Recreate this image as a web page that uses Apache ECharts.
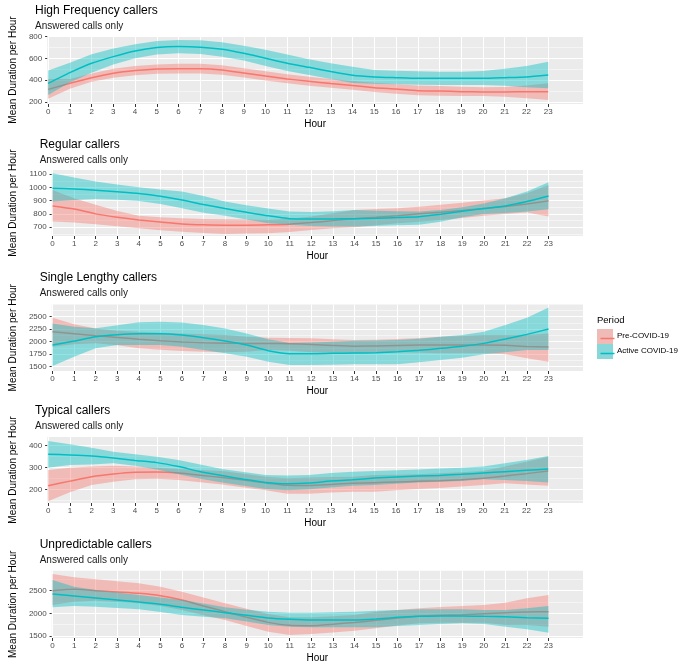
<!DOCTYPE html>
<html>
<head>
<meta charset="utf-8">
<script src="https://cdn.jsdelivr.net/npm/echarts@6/dist/echarts.min.js"></script>
<style>html,body{margin:0;padding:0;background:#fff}#c{width:687px;height:668px}</style>
</head>
<body>
<div id="c"></div>
<script>
// ---------- DATA ----------
const hours = [0,1,2,3,4,5,6,7,8,9,10,11,12,13,14,15,16,17,18,19,20,21,22,23];
const seriesNames = ['Pre-COVID-19', 'Active COVID-19'];
const panelTitles = ['High Frequency callers','Regular callers','Single Lengthy callers','Typical callers','Unpredictable callers'];
const subtitle = 'Answered calls only';

// High Frequency
const hfPreMean = [316,371,423,463,488,503,506,506,494,466,438,412,390,370,352,332,319,304,301,295,292,292,295,295];
const hfPreLo   = [231,322,385,422,446,460,462,462,450,425,397,372,350,330,312,292,275,263,258,256,255,248,235,218];
const hfPreHi   = [412,410,462,505,530,545,550,550,538,510,482,455,432,410,392,376,364,352,346,340,335,337,352,371];
const hfActMean = [371,469,555,616,668,699,708,702,684,647,601,555,518,479,445,430,423,417,417,417,417,423,430,448];
const hfActLo   = [264,378,469,545,601,635,647,640,616,580,531,485,448,410,375,368,362,358,356,355,356,350,335,326];
const hfActHi   = [488,561,638,690,730,760,769,767,748,715,678,635,592,555,524,494,487,482,478,478,485,505,531,570];
const hfTicks = [200,400,600,800];
const hfMinor = [300,500,700];

// Regular
const regPreMean = [861,838,801,775,755,740,725,718,715,715,718,723,735,750,765,775,786,801,813,826,841,856,876,899];
const regPreLo   = [743,735,723,708,692,678,667,656,650,652,655,665,680,692,700,715,730,742,755,770,786,800,811,781];
const regPreHi   = [982,919,869,823,786,775,768,762,760,758,755,765,781,805,831,838,843,855,869,885,901,919,957,1019];
const regActMean = [994,989,979,967,954,934,906,871,841,813,786,765,763,763,765,768,773,780,798,821,841,861,894,936];
const regActLo   = [894,905,914,908,899,875,843,810,786,758,730,718,710,705,705,710,715,718,742,775,800,808,818,836];
const regActHi   = [1108,1075,1045,1022,1002,985,969,935,894,866,841,818,816,820,831,825,820,818,830,850,880,919,969,1040];
const regTicks = [700,800,900,1000,1100];
const regMinor = [650,750,850,950,1050];

// Single Lengthy
const slPreMean = [2200,2160,2120,2085,2050,2020,1995,1980,1970,1965,1965,1960,1945,1925,1910,1915,1925,1932,1935,1933,1933,1927,1905,1893];
const slPreLo   = [1900,1950,1967,1930,1867,1840,1813,1800,1787,1800,1833,1820,1787,1775,1767,1775,1787,1780,1767,1767,1767,1747,1667,1600];
const slPreHi   = [2480,2350,2267,2220,2200,2180,2167,2150,2133,2100,2080,2075,2067,2050,2033,2040,2053,2075,2100,2115,2133,2133,2133,2167];
const slActMean = [1933,2013,2100,2140,2160,2160,2133,2080,2013,1933,1820,1760,1760,1767,1773,1780,1800,1827,1867,1907,1967,2053,2147,2253];
const slActLo   = [1513,1700,1867,1933,1933,1933,1900,1833,1767,1700,1600,1533,1533,1540,1547,1547,1547,1590,1633,1680,1747,1787,1833,1833];
const slActHi   = [2367,2300,2270,2330,2390,2400,2387,2333,2267,2167,2050,1975,1985,2000,2020,2025,2033,2060,2100,2133,2200,2333,2480,2687];
const slTicks = [1500,1750,2000,2250,2500];
const slMinor = [1625,1875,2125,2375,2625];

// Typical
const typPreMean = [218,239,259,271,279,280,276,266,255,244,231,220,219,224,229,232,235,238,241,245,252,262,273,285];
const typPreLo   = [148,188,221,236,247,250,244,234,224,210,198,182,182,187,191,191,197,203,208,214,221,229,224,218];
const typPreHi   = [289,300,305,309,305,300,294,290,285,272,259,252,255,258,259,267,268,270,275,279,285,305,327,350];
const typActMean = [361,358,353,344,333,323,305,282,264,247,233,227,230,239,245,253,258,262,265,270,276,282,288,294];
const typActLo   = [300,312,315,320,309,292,270,250,233,218,203,198,202,210,218,221,227,233,236,239,248,244,239,233];
const typActHi   = [421,406,391,373,361,350,335,315,294,280,267,264,267,276,282,285,288,292,296,300,305,320,335,353];
const typTicks = [200,300,400];
const typMinor = [150,250,350];

// Unpredictable
const unPreMean = [2500,2529,2500,2471,2441,2390,2294,2162,2037,1912,1801,1735,1728,1760,1800,1845,1895,1935,1956,1971,1993,2015,2029,2037];
const unPreLo   = [2184,2257,2279,2250,2221,2162,2074,1960,1853,1720,1596,1522,1544,1580,1618,1669,1730,1779,1790,1794,1794,1743,1743,1706];
const unPreHi   = [2868,2794,2750,2706,2662,2588,2478,2350,2221,2100,1985,1912,1912,1935,1963,2037,2075,2110,2140,2162,2184,2235,2331,2404];
const unActMean = [2426,2382,2338,2294,2250,2199,2132,2074,2015,1956,1897,1868,1853,1853,1853,1875,1912,1934,1941,1941,1934,1926,1904,1890];
const unActLo   = [2132,2162,2147,2120,2088,2030,1963,1925,1890,1820,1743,1706,1691,1691,1691,1691,1720,1743,1765,1779,1765,1706,1647,1574];
const unActHi   = [2735,2588,2515,2460,2404,2350,2294,2215,2132,2080,2037,2015,2015,2025,2037,2059,2075,2088,2090,2088,2074,2074,2110,2162];
const unTicks = [1500,2000,2500];
const unMinor = [1750,2250,2750];

// ---------- LAYOUT / STYLE ----------
const PRE_COL = '#F8766D', ACT_COL = '#00BFC4', BAND_OP = 0.42;
const layout = [
  {left:36,   top:36,    height:68,   yMin:182,   yMax:805,  titleTop:5},
  {left:40.7, top:170,   height:66,   yMin:634,   yMax:1132, titleTop:139},
  {left:40.7, top:304.5, height:66.5, yMin:1414,  yMax:2745, titleTop:272},
  {left:36,   top:437,   height:66,   yMin:139.5, yMax:439.5,titleTop:405},
  {left:40.7, top:570.7, height:67.3, yMin:1456,  yMax:2941, titleTop:539}
];
const panels = [
  {pre:[hfPreMean,hfPreLo,hfPreHi],   act:[hfActMean,hfActLo,hfActHi],   ticks:hfTicks,  minor:hfMinor},
  {pre:[regPreMean,regPreLo,regPreHi],act:[regActMean,regActLo,regActHi],ticks:regTicks, minor:regMinor},
  {pre:[slPreMean,slPreLo,slPreHi],   act:[slActMean,slActLo,slActHi],   ticks:slTicks,  minor:slMinor},
  {pre:[typPreMean,typPreLo,typPreHi],act:[typActMean,typActLo,typActHi],ticks:typTicks, minor:typMinor},
  {pre:[unPreMean,unPreLo,unPreHi],   act:[unActMean,unActLo,unActHi],   ticks:unTicks,  minor:unMinor}
];

const FONT = 'Liberation Sans, Arial, sans-serif';
const grids = [], xAxes = [], yAxes = [], titles = [], series = [];

function bandRenderer(lo, hi, col) {
  return function (params, api) {
    if (params.dataIndex !== 0) return null;
    const up = hours.map((h, j) => api.coord([h, hi[j]]));
    const dn = hours.map((h, j) => api.coord([h, lo[j]])).reverse();
    return {type:'polygon', shape:{points: up.concat(dn)},
            style:{fill: col, opacity: BAND_OP}, silent:true};
  };
}

panels.forEach((p, i) => {
  const L = layout[i];
  grids.push({left:L.left, right:104, top:L.top, height:L.height, show:true,
              backgroundColor:'#EBEBEB', borderWidth:0, containLabel:false});
  xAxes.push({type:'value', gridIndex:i, min:-0.04, max:24.6,
    name:'Hour', nameLocation:'middle', nameGap:15.5,
    nameTextStyle:{fontSize:10, color:'#000', fontFamily:FONT},
    axisLine:{show:false},
    axisTick:{show:true, length:3, lineStyle:{color:'#333'}, customValues:hours},
    axisLabel:{fontSize:8, color:'#4D4D4D', margin:4, fontFamily:FONT, customValues:hours},
    splitLine:{show:false}});
  yAxes.push({type:'value', gridIndex:i, min:L.yMin, max:L.yMax,
    name:'Mean Duration per Hour', nameLocation:'middle', nameGap:L.left - 23,
    nameTextStyle:{fontSize:10, color:'#000', fontFamily:FONT},
    axisLine:{show:false},
    axisTick:{show:true, length:3, lineStyle:{color:'#333'}, customValues:p.ticks},
    axisLabel:{fontSize:8, color:'#4D4D4D', margin:5, fontFamily:FONT, customValues:p.ticks,
               formatter: v => String(v)},
    splitLine:{show:false}});
  titles.push({text:panelTitles[i], subtext:subtitle, left:L.left - 1, top:L.titleTop,
    padding:0, itemGap:4,
    textStyle:{fontSize:12, fontWeight:'normal', color:'#000', fontFamily:FONT},
    subtextStyle:{fontSize:10, color:'#1A1A1A', fontFamily:FONT}});

  const gridLines = [].concat(
    hours.map(h => ({xAxis:h, lineStyle:{color:'#FFFFFF', width:1, type:'solid'}})),
    p.ticks.map(v => ({yAxis:v, lineStyle:{color:'#FFFFFF', width:1, type:'solid'}})),
    p.minor.map(v => ({yAxis:v, lineStyle:{color:'#FFFFFF', width:0.5, type:'solid'}}))
  );

  [['pre', PRE_COL, 0], ['act', ACT_COL, 1]].forEach(([key, col, k]) => {
    const [mean, lo, hi] = p[key];
    const zBase = 2 + k * 2;
    const band = {type:'custom', name:seriesNames[k] + ' band', xAxisIndex:i, yAxisIndex:i,
      data: hours.map((h, j) => [h, lo[j], hi[j]]), encode:{x:0, y:[1,2]},
      renderItem: bandRenderer(lo, hi, col), silent:true, z:zBase};
    if (k === 0) {
      band.markLine = {silent:true, symbol:['none','none'], label:{show:false}, z:1,
        animation:false, emphasis:{disabled:true}, data:gridLines};
    }
    series.push(band);
    series.push({type:'line', name:seriesNames[k], xAxisIndex:i, yAxisIndex:i,
      data: hours.map((h, j) => [h, mean[j]]), symbol:'none', smooth:0.2,
      lineStyle:{color:col, width:1.5}, silent:true, z:zBase + 1});
  });
});

// Legend (drawn as graphic; text kept as real text)
const legendGraphic = {type:'group', left:597, top:315, children:[
  {type:'text', left:0, top:0, style:{text:'Period', fill:'#000', font:'9.5px ' + FONT}},
  {type:'rect', left:0, top:14, shape:{width:16, height:15}, style:{fill:'#EBEBEB'}},
  {type:'rect', left:0, top:14, shape:{width:16, height:15}, style:{fill:PRE_COL, opacity:BAND_OP}},
  {type:'line', left:1, top:21, shape:{x1:0, y1:0, x2:14, y2:0}, style:{stroke:PRE_COL, lineWidth:1.5}},
  {type:'rect', left:0, top:29, shape:{width:16, height:15}, style:{fill:'#EBEBEB'}},
  {type:'rect', left:0, top:29, shape:{width:16, height:15}, style:{fill:ACT_COL, opacity:BAND_OP}},
  {type:'line', left:1, top:36, shape:{x1:0, y1:0, x2:14, y2:0}, style:{stroke:ACT_COL, lineWidth:1.5}},
  {type:'text', left:20, top:17, style:{text:seriesNames[0], fill:'#000', font:'8px ' + FONT}},
  {type:'text', left:20, top:32, style:{text:seriesNames[1], fill:'#000', font:'8px ' + FONT}}
]};

const chart = echarts.init(document.getElementById('c'), null, {renderer:'canvas'});
chart.setOption({
  animation:false,
  backgroundColor:'#FFFFFF',
  title:titles,
  grid:grids,
  xAxis:xAxes,
  yAxis:yAxes,
  series:series,
  graphic:[legendGraphic]
});
</script>
</body>
</html>
